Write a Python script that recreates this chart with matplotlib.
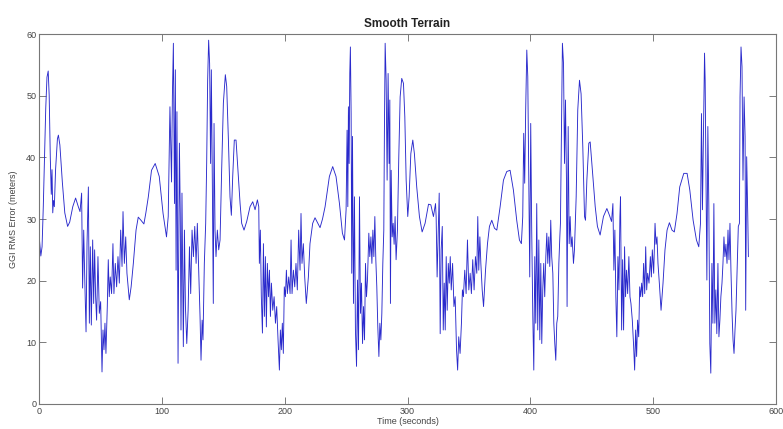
import matplotlib
matplotlib.use("Agg")
from matplotlib import pyplot as plt
from matplotlib import font_manager

# GGI RMS error over the smooth-terrain run (time in s, error in m)
time_s = [
    0, 1.5, 2.5, 3.5, 4.5, 5.5, 6.5, 7.5, 8.3, 9.2, 10.0, 10.6, 11.2, 11.8, 12.5, 13.5, 15.0, 15.8, 17, 19,
    21, 23.3, 25, 27.5, 29.8, 32, 33.4, 34.7, 35.5, 36.4, 37.4, 38.3, 39.1, 40.2, 41, 41.8, 42.6, 43.7, 44.5, 45.3,
    46.1, 46.9, 48, 49.1, 50.2, 51.3, 52.1, 52.9, 53.7, 54.5, 55.6, 56.4, 57.2, 58, 59.1, 60.2, 61, 62.1, 63.2, 64.3,
    65.4, 66.5, 67.6, 68.4, 69.5, 70.6, 71.6, 73.5, 75, 76.8, 79, 80.8, 83, 85.4, 87, 89, 91.6, 94.6, 97.9, 101,
    103.8, 105.2, 106.6, 107.9, 108.6, 109.4, 110.3, 111, 111.6, 112.3, 113.2, 114.3, 115.0, 115.6, 116.4, 117.5, 118.4, 119.2, 120.3, 121.4,
    122.5, 123.5, 124.6, 125.7, 126.8, 127.9, 128.9, 130, 131.1, 131.9, 132.8, 133.5, 134.6, 135.7, 136.5, 137.3, 138.1, 138.9, 139.7, 140.3,
    141.1, 141.9, 142.5, 143.3, 144.1, 145.2, 146.3, 147.4, 148.7, 150.1, 151.7, 152.8, 154.2, 155.5, 156.6, 157.7, 159, 160.4, 162, 163.7,
    165, 166.9, 169.1, 171.8, 174, 175.9, 177.8, 178.9, 179.4, 180.2, 181, 181.9, 182.7, 183.5, 184.3, 185.1, 185.9, 186.8, 187.6, 188.4,
    189.2, 190.3, 191.4, 192.5, 193.5, 194.6, 195.7, 196.5, 197.3, 198.1, 198.9, 199.7, 200.6, 201.4, 202.2, 203.3, 204.4, 205.2, 206, 207.1,
    208.2, 209.2, 210.3, 211.4, 212.5, 213.3, 214.1, 215.2, 216.3, 217.6, 219.3, 220.6, 222.8, 224.7, 226.8, 228.8, 230.8, 232.9, 236.4, 239.1,
    241.8, 244.6, 247, 248.7, 250, 250.8, 251.4, 251.9, 252.5, 253, 253.5, 254.1, 254.6, 255.2, 256, 256.8, 257.6, 258.5, 259.3, 260.1,
    260.9, 261.7, 262.5, 263.4, 264.2, 265, 265.8, 266.6, 267.4, 268.5, 269.3, 270.2, 271, 271.8, 272.6, 273.4, 274.2, 275, 275.8, 276.7,
    277.5, 278.3, 279.1, 279.9, 280.7, 281.2, 281.8, 282.6, 283.4, 284.2, 285, 285.6, 286.1, 286.7, 287.5, 288.3, 289.1, 289.9, 290.7, 291.8,
    292.9, 294, 295.3, 296.7, 297.8, 298.9, 300.2, 301.3, 302.7, 304.3, 305.6, 307.5, 309.7, 311.9, 314.3, 317.1, 319, 321.1, 322.8, 323.3,
    324.1, 325, 325.8, 326.6, 327.4, 328.3, 329.1, 329.9, 330.7, 331.5, 332.3, 333.2, 334, 334.8, 335.6, 336.7, 337.8, 338.8, 339.9, 340.8,
    341.7, 342.8, 343.9, 344.7, 345.5, 346.6, 347.7, 348.8, 349.9, 351, 352, 353.1, 354.2, 355.3, 356.4, 357.2, 358, 358.9, 359.7, 360.8,
    361.9, 363.5, 365.1, 366.7, 368.6, 370.8, 372.7, 375.4, 378.1, 380.8, 383.5, 386.2, 388.9, 391.1, 392.7, 393.8, 394.6, 395.4, 396.2, 397.1,
    397.9, 398.7, 399.5, 400.3, 401.1, 402, 402.8, 403.6, 404.4, 405.2, 406, 406.9, 407.7, 408.5, 409.3, 410.1, 410.9, 411.7, 412.6, 413.4,
    414.2, 415, 415.8, 416.6, 417.4, 418.3, 419.1, 419.9, 420.7, 421.5, 422.3, 423.2, 424, 424.5, 425.3, 426.1, 427, 427.8, 428.6, 429.4,
    429.9, 430.8, 431.6, 432.4, 433.2, 434, 435.1, 435.9, 437.3, 438.6, 440, 441.3, 442.7, 444.1, 444.9, 446, 447.6, 448.7, 450.9, 452.8,
    454.6, 456.8, 459.5, 462.3, 464.4, 466.1, 467.2, 468, 468.8, 469.6, 470.4, 471.3, 472.1, 472.9, 473.4, 474.3, 475.1, 475.9, 476.7, 477.5,
    478.3, 479.2, 480.2, 481.1, 481.9, 483, 484.1, 484.9, 485.7, 486.5, 487.3, 488.2, 489, 489.8, 490.6, 491.4, 492.2, 493.1, 493.9, 494.7,
    495.5, 496.6, 497.7, 498.5, 499.3, 500.4, 501.5, 502.3, 503.1, 503.9, 505, 506.4, 508, 509.6, 511.3, 513.2, 515.3, 517.2, 519.4, 521.6,
    524.9, 527.6, 529.8, 532.5, 535.2, 537.1, 538.5, 539.3, 540.1, 540.9, 541.8, 542.3, 543.1, 543.7, 544.5, 545.3, 546.1, 546.9, 547.8, 548.6,
    549.4, 550.2, 551, 551.8, 552.7, 553.5, 554.3, 555.1, 556, 556.8, 557.6, 558.4, 559.2, 560.1, 560.9, 561.7, 562.5, 563.3, 564.2, 565,
    565.8, 566.6, 567.4, 568.5, 569.3, 570.2, 570.7, 571.5, 572.3, 573.1, 574, 574.8, 575.3, 576.1, 577, 577.5,
]
rms_err = [
    27.5, 24, 25.5, 32, 40, 48, 53, 54, 50, 40, 34, 38, 31, 33, 32, 38, 43, 43.6, 42, 36,
    31, 28.8, 29.5, 32, 33.4, 32, 31.2, 34.2, 18.8, 28.2, 19, 11.7, 26, 35.2, 13.1, 25.5, 12.8, 26.6, 16.3, 25,
    17.4, 13.6, 23.9, 14.7, 16.6, 5.2, 12, 8.8, 13.1, 8.2, 15.8, 23.4, 17.4, 20.6, 17.9, 26, 17.9, 22.8, 19, 23.9,
    19.6, 28.2, 22.3, 31.2, 22.8, 27.1, 21.2, 16.9, 19, 22.8, 28.2, 30.3, 29.8, 29.2, 31, 33.6, 37.9, 39, 36.9, 30.9,
    27.1, 30.4, 48.2, 36, 50, 58.5, 32.5, 54.2, 21.7, 47.4, 6.6, 42.3, 30.9, 12, 34.2, 9.3, 28.2, 15.8, 9.8, 15.2,
    25.5, 17.9, 28.2, 23.9, 28.8, 22.8, 29.3, 21.7, 14.2, 7.1, 13.6, 10.4, 22.8, 29.3, 39, 52.5, 59, 55.2, 39, 54.2,
    36.3, 16.3, 45.5, 28.2, 23.9, 28.2, 25, 26.6, 37.9, 48.8, 53.4, 51.5, 42.8, 33.6, 30.6, 36.9, 42.8, 42.8, 37.9, 32.5,
    29.3, 28.2, 29.6, 32, 32.8, 31.5, 33.1, 32, 22.8, 28.2, 17.4, 11.5, 26, 14.2, 23.9, 12.5, 22.8, 17.4, 21.7, 14.2,
    19.6, 15.2, 17.4, 13.1, 15.8, 10.4, 5.5, 12, 8.8, 13.1, 8.2, 19, 17.4, 21.7, 17.9, 20.6, 17.9, 26.6, 17.9, 21.7,
    19, 22.8, 18.5, 28.2, 21.7, 30.9, 22.8, 26, 20.6, 16.3, 20.6, 26, 29.3, 30.2, 29.4, 28.6, 30, 32, 36.9, 38.5,
    36.9, 32.5, 27.7, 26.6, 31.5, 44.4, 32, 48.2, 39, 53.6, 57.9, 47.1, 21.2, 43.4, 16.3, 33.6, 12, 6.1, 20.1, 8.8,
    33.6, 14.7, 19.6, 9.8, 15.8, 10.4, 22.8, 17.4, 20.1, 27.7, 23.9, 27.1, 22.8, 28.2, 23.9, 30.4, 23.4, 19, 12.6, 7.7,
    13.1, 10.4, 14.7, 22.8, 28.2, 44.4, 58.5, 52.5, 36.3, 53.6, 39, 49.3, 16.3, 37.9, 27.1, 29.3, 25.9, 30.4, 23.4, 28.2,
    40.1, 49.8, 52.8, 52, 46.6, 36.3, 30.4, 33.6, 40.6, 42.8, 40.6, 35.2, 30.4, 27.9, 29.3, 32.4, 32.3, 30.4, 32.5, 30.4,
    20.6, 28.2, 34.2, 11.4, 25, 28.8, 12, 19.6, 12, 23.9, 15.2, 22.8, 19.6, 23.9, 18.5, 22.8, 15.8, 17.4, 8.8, 5.5,
    10.9, 8.2, 13.1, 18.5, 17.4, 21.7, 17.9, 26.6, 18.5, 21.2, 17.9, 23.4, 18.5, 23.9, 21.2, 30.4, 21.7, 27.1, 22.8, 18.5,
    15.8, 21.7, 26, 28.8, 29.8, 28.5, 28.2, 32, 36.3, 37.7, 37.9, 34.7, 29.8, 26.6, 26, 30.4, 43.9, 35.8, 47.7, 57.4,
    53.1, 36.3, 20.6, 45.5, 28.2, 14.2, 5.5, 23.9, 13.1, 32.5, 12, 26.6, 10.4, 22.8, 9.8, 18.5, 22.8, 17.4, 23.9, 27.7,
    22.8, 27.1, 22.3, 29.8, 23.9, 21.2, 13.1, 9.8, 7.1, 13.1, 14.2, 22.8, 27.1, 29.3, 44.4, 58.5, 55.2, 39, 49.3, 36.3,
    15.8, 45, 26, 30.4, 25.5, 27.1, 22.8, 25, 33.6, 47.7, 52.5, 50.3, 41.7, 30.4, 29.8, 36.3, 42.3, 42.5, 36.9, 32,
    28.8, 27.4, 30.4, 31.7, 30.6, 29.6, 32.5, 21.7, 28.2, 17.4, 10.9, 23.9, 18.5, 30.4, 33.6, 12, 23.4, 12, 25.5, 17.4,
    21.7, 17.9, 23.9, 17.4, 16.3, 13.6, 9.3, 5.5, 12, 7.7, 13.6, 10.9, 19, 17.4, 19.6, 17.4, 22.8, 17.9, 25.5, 18.5,
    21.2, 19.6, 23.9, 20.6, 25, 21.2, 29.3, 25.9, 27.1, 22.8, 19.6, 15.2, 19.6, 25, 28.2, 29.4, 28.2, 27.9, 30.9, 35.2,
    37.4, 37.4, 34.7, 29.8, 26.6, 25.5, 29.3, 47.1, 31.5, 43.4, 56.9, 52.5, 33.6, 20.1, 45, 32, 9.8, 5, 22.8, 13.1,
    32.5, 13.1, 18.5, 11.4, 22.8, 10.9, 13.6, 17.4, 19.6, 22.8, 27.1, 23.9, 25.9, 22.8, 28.2, 23.4, 29.3, 21.7, 14.7, 10.4,
    8.2, 12, 15.2, 22.8, 28.8, 29.3, 49.8, 57.9, 54.7, 36.3, 49.8, 43.4, 15.2, 40.1, 30.4, 23.9,
]

x_ticks = [0, 100, 200, 300, 400, 500, 600]
y_ticks = [0, 10, 20, 30, 40, 50, 60]

installed = {f.name for f in font_manager.fontManager.ttflist}
fam = [f for f in ["Liberation Sans Narrow", "Liberation Sans", "DejaVu Sans"] if f in installed]
plt.rcParams["font.family"] = fam

text_col = "#444444"

fig = plt.figure(figsize=(7.83, 4.29), dpi=100)
ax = fig.add_axes([0.0498, 0.0583, 0.9413, 0.8624])
ax.plot(time_s, rms_err, color="#2a2acc", linewidth=0.65)

ax.set_xlim(0, 600)
ax.set_ylim(0, 60)
ax.set_xticks(x_ticks)
ax.set_yticks(y_ticks)
ax.tick_params(direction="in", top=True, right=True, labelsize=6.5, length=5,
               width=0.6, color="#666666", labelcolor=text_col, pad=2)
for sp in ax.spines.values():
    sp.set_color("#777777")
    sp.set_linewidth(0.8)

ax.set_title("Smooth Terrain", fontsize=8.5, fontweight="bold", color="#222222", pad=5)
ax.set_xlabel("Time (seconds)", fontsize=6.5, color=text_col, labelpad=1)
ax.set_ylabel("GGI RMS Error (meters)", fontsize=6.5, color=text_col, labelpad=6)

fig.savefig("out.png", dpi=100)
